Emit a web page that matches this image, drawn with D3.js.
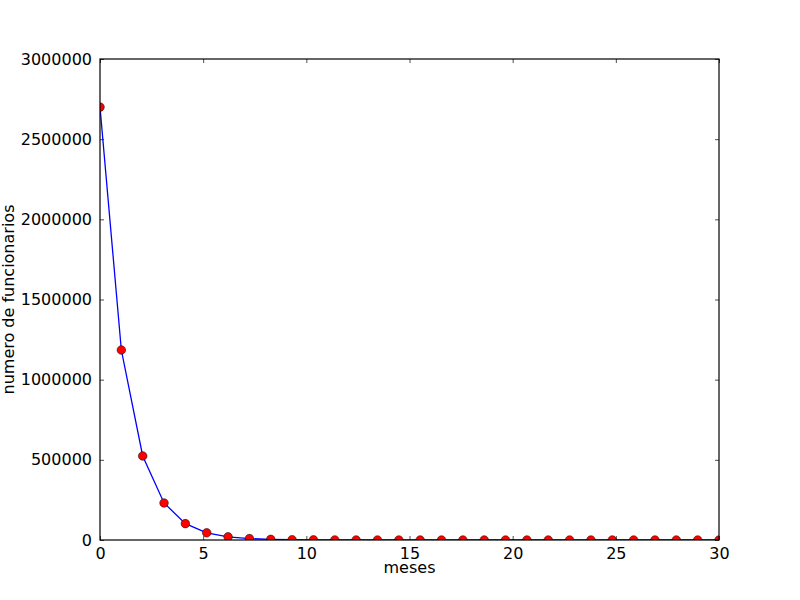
<!DOCTYPE html>
<html><head><meta charset="utf-8">
<script src="https://cdn.jsdelivr.net/npm/d3@7"></script>
<style>body{margin:0;background:#fff}svg{display:block}text{font-family:"DejaVu Sans",sans-serif}</style>
</head><body>
<svg id="c" width="800" height="600"></svg>
<script>
const months = [0,1.0345,2.069,3.1034,4.1379,5.1724,6.2069,7.2414,8.2759,9.3103,10.3448,11.3793,12.4138,13.4483,14.4828,15.5172,16.5517,17.5862,18.6207,19.6552,20.6897,21.7241,22.7586,23.7931,24.8276,25.8621,26.8966,27.931,28.9655,30];
const workers = [2700000,1185000,524000,231000,102000,45000,19800,8700,3850,1700,750,330,146,64,28,12,5.5,2.4,1.1,0.5,0.2,0.1,0.04,0.02,0.008,0.004,0.002,0.001,0.0004,0.0002];
const xTicks = [0,5,10,15,20,25,30];
const yTicks = [0,500000,1000000,1500000,2000000,2500000,3000000];

const svg = d3.select("#c");
const L=100,R=719,T=59,B=540;
const x = d3.scaleLinear().domain([0,30]).range([L,R]);
const y = d3.scaleLinear().domain([0,3000000]).range([B,T]);

svg.append("clipPath").attr("id","clip").append("rect").attr("x",L).attr("y",T).attr("width",R-L).attr("height",B-T);

const g = svg.append("g").attr("clip-path","url(#clip)");
g.append("path").datum(months.map((m,i)=>[m,workers[i]]))
 .attr("fill","none").attr("stroke","#0000ff").attr("stroke-width",1.3)
 .attr("d",d3.line().x(d=>x(d[0])).y(d=>y(d[1])));
g.selectAll("circle").data(months.map((m,i)=>[m,workers[i]])).join("circle")
 .attr("cx",d=>x(d[0])).attr("cy",d=>y(d[1])).attr("r",4.3)
 .attr("fill","#ff0000").attr("stroke","#000").attr("stroke-width",0.5);

const axB = d3.axisBottom(x).tickValues(xTicks).tickSizeInner(-4).tickSizeOuter(0).tickPadding(8).tickFormat(d3.format("d"));
const axT = d3.axisTop(x).tickValues(xTicks).tickSizeInner(-4).tickSizeOuter(0).tickFormat("");
const axL = d3.axisLeft(y).tickValues(yTicks).tickSizeInner(-4).tickSizeOuter(0).tickPadding(8).tickFormat(d3.format("d"));
const axR = d3.axisRight(y).tickValues(yTicks).tickSizeInner(-4).tickSizeOuter(0).tickFormat("");
function style(sel){sel.select(".domain").remove();sel.selectAll("line").attr("stroke","#000").attr("stroke-width",0.7);sel.selectAll("text").attr("font-size",16).attr("fill","#000").attr("font-family","DejaVu Sans");}
svg.append("g").attr("transform",`translate(0,${B})`).call(axB).call(style);
svg.append("g").attr("transform",`translate(0,${T})`).call(axT).call(style);
svg.append("g").attr("transform",`translate(${L},0)`).call(axL).call(style);
svg.append("g").attr("transform",`translate(${R},0)`).call(axR).call(style);

svg.append("rect").attr("x",L).attr("y",T).attr("width",R-L).attr("height",B-T).attr("fill","none").attr("stroke","#000").attr("stroke-width",1.2);

svg.append("text").attr("x",(L+R)/2).attr("y",573).attr("text-anchor","middle").attr("font-size",16).text("meses");
svg.append("text").attr("transform",`translate(14,${(T+B)/2}) rotate(-90)`).attr("text-anchor","middle").attr("font-size",16).text("numero de funcionarios");
</script>
</body></html>
